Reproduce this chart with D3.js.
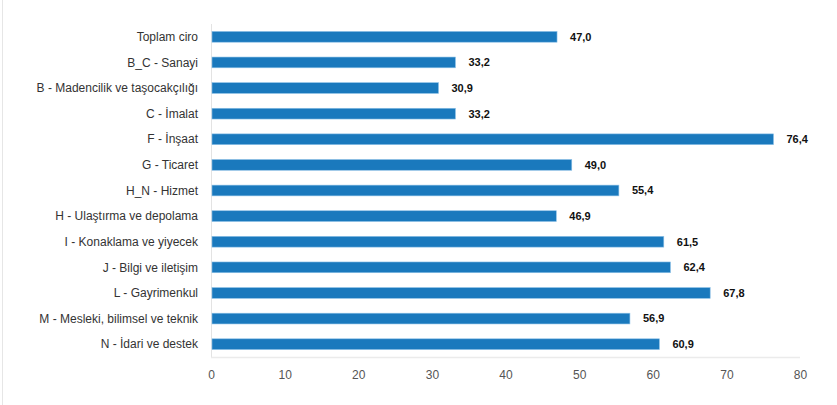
<!DOCTYPE html>
<html><head><meta charset="utf-8">
<script src="https://cdn.jsdelivr.net/npm/d3@7"></script>
<style>body{margin:0;background:#fff;}svg{display:block;font-family:"Liberation Sans",Arial,sans-serif;}</style>
</head><body>
<svg id="c" width="837" height="405"></svg>
<script>
const categories = ["Toplam ciro","B_C - Sanayi","B - Madencilik ve taşocakçılığı","C - İmalat","F - İnşaat","G - Ticaret","H_N - Hizmet","H - Ulaştırma ve depolama","I - Konaklama ve yiyecek","J - Bilgi ve iletişim","L - Gayrimenkul","M - Mesleki, bilimsel ve teknik","N - İdari ve destek"];
const values = [47.0,33.2,30.9,33.2,76.4,49.0,55.4,46.9,61.5,62.4,67.8,56.9,60.9];
const xTicks = [0,10,20,30,40,50,60,70,80];

(function(){
const svg = d3.select("#c");
const pl = 211, pr = 800, pt = 24, pb = 357;
const x = d3.scaleLinear().domain([0,80]).range([pl,pr]);
const y = d3.scaleBand().domain(categories).range([pt,pb]).paddingInner(0.58).paddingOuter(0.29);

svg.append("line").attr("x1",2.5).attr("x2",2.5).attr("y1",0).attr("y2",405).attr("stroke","#e6e6e6");

svg.append("line").attr("x1",pl+0.5).attr("x2",pl+0.5).attr("y1",pt).attr("y2",pb).attr("stroke","#e3e3e3");
svg.append("line").attr("x1",pl).attr("x2",pr).attr("y1",pb+0.5).attr("y2",pb+0.5).attr("stroke","#ebebeb").attr("stroke-width",1.5);

const fmt = v => v.toFixed(1).replace(".", ",");

svg.selectAll("rect.bar").data(values).join("rect").attr("class","bar")
  .attr("x", x(0)+1).attr("y",(d,i)=>y(categories[i]))
  .attr("width", d=>x(d)-x(0)-1).attr("height", y.bandwidth())
  .attr("fill","#1a79bd").attr("stroke","#8cc0e6").attr("stroke-width",0.6);

svg.selectAll("text.val").data(values).join("text").attr("class","val")
  .attr("x", d=>x(d)+13).attr("y",(d,i)=>y(categories[i])+y.bandwidth()/2)
  .attr("dy","0.35em").attr("font-size",11).attr("font-weight","bold").attr("fill","#111")
  .text(fmt);

svg.selectAll("text.cat").data(categories).join("text").attr("class","cat")
  .attr("x",198).attr("y",d=>y(d)+y.bandwidth()/2).attr("dy","0.35em")
  .attr("text-anchor","end").attr("font-size",12).attr("fill","#333").text(d=>d);

const ax = d3.axisBottom(x).tickValues(xTicks).tickSize(0).tickPadding(0).tickFormat(d3.format("d"));
const g = svg.append("g").attr("transform",`translate(0,${pb})`).call(ax);
g.select(".domain").remove();
g.selectAll("text").attr("y",19).attr("dy","0").attr("dominant-baseline","middle").attr("font-size",12).attr("fill","#555").attr("font-family","\"Liberation Sans\",Arial,sans-serif");
})();
</script>
</body></html>
